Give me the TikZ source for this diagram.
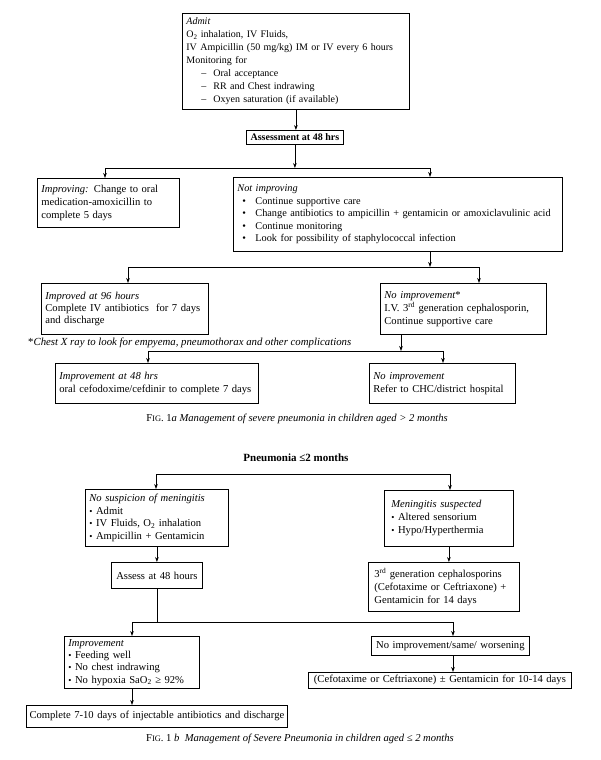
\documentclass[tikz,border=0pt]{standalone}
\usepackage{fontspec}
\setmainfont{Liberation Serif}
\usetikzlibrary{arrows.meta}
\newcommand\mainfs{\fontsize{10.6}{13}\selectfont}
\newcommand\tightfs{\fontsize{10.6}{12.4}\selectfont}
\newcommand\admitfs{\fontsize{10}{13}\selectfont}
\newcommand\notfs{\fontsize{10.3}{12.4}\selectfont}
\newcommand\sclt[1]{{\fontsize{8.4}{10}\selectfont #1}}
\newcommand\dsh{\hspace*{15pt}\makebox[12pt][l]{--}}
\newcommand\bul{\hspace*{5pt}\makebox[13pt][l]{\textbullet}}
\newcommand\sbul{{\small\textbullet}\ }
\tikzset{
  bx/.style={draw, line width=0.8pt, anchor=north west, inner xsep=4pt, inner ysep=1pt, align=left, font=\mainfs},
  cbx/.style={bx, align=center},
  arr/.style={line width=0.7pt, -{Stealth[length=5pt,width=3.6pt]}},
  ln/.style={line width=0.7pt},
  lbl/.style={inner sep=0pt, font=\mainfs},
}
\begin{document}
\begin{tikzpicture}[x=1pt,y=1pt]
\fill[white] (0,0) rectangle (600,-760);
\useasboundingbox (0,0) rectangle (600,-760);

% ---------- Fig 1a ----------
\node[bx, font=\admitfs, text width=219pt, minimum height=96pt] (admit) at (182,-13)
 {\textit{Admit}\\
  O\textsubscript{2} inhalation, IV Fluids,\\
  IV Ampicillin (50 mg/kg) IM or IV every 6 hours\\
  Monitoring for\\
  \dsh Oral acceptance\\
  \dsh RR and Chest indrawing\\
  \dsh Oxyen saturation (if available)};

\node[bx, align=center, font=\fontsize{10}{12}\selectfont\bfseries, inner xsep=1pt, inner ysep=0pt, minimum width=97pt, minimum height=14pt] (assess) at (246,-130)
 {Assessment at 48 hrs};

\node[bx, text width=134pt, minimum height=49pt] (improving) at (37,-178)
 {\textit{Improving:} Change to oral\\ medication-amoxicillin to\\ complete 5 days};

\node[bx, font=\notfs, text width=321pt, minimum height=74pt] (notimp) at (233,-177)
 {\textit{Not improving}\\
  \bul Continue supportive care\\
  \bul Change antibiotics to ampicillin + gentamicin or amoxiclavulinic acid\\
  \bul Continue monitoring\\
  \bul Look for possibility of staphylococcal infection};

\node[bx, font=\fontsize{10.6}{12.3}\selectfont, text width=159pt, minimum height=51pt] (imp96) at (41,-283)
 {\textit{Improved at 96 hours}\\ Complete IV antibiotics\ \ for 7 days\\ and discharge};

\node[bx, text width=158pt, minimum height=51pt] (noimpA) at (380,-283)
 {\textit{No improvement}*\\ I.V. 3\textsuperscript{rd} generation cephalosporin,\\ Continue supportive care};

\node[lbl, anchor=west, font=\fontsize{10.8}{13}\selectfont] (foot) at (28,-343)
 {*\textit{Chest X ray to look for empyema, pneumothorax and other complications}};

\node[bx, text width=195pt, minimum height=40pt] (imp48) at (55,-363)
 {\textit{Improvement at 48 hrs}\\ oral cefodoxime/cefdinir to complete 7 days};

\node[bx, text width=138pt, minimum height=40pt] (noimpB) at (369,-363)
 {\textit{No improvement}\\ Refer to CHC/district hospital};

\node[lbl] (capA) at (297,-419)
 {F\sclt{IG}. 1\textit{a Management of severe pneumonia in children aged > 2 months}};

% connectors 1a
\coordinate (j1c) at (296,-168);
\coordinate (j1l) at (105,-168);
\coordinate (j1r) at (430,-168);
\draw[arr] (admit.south) -- (admit.south |- assess.north);
\draw[arr] (assess.south) -- (assess.south |- j1c);
\draw[ln] (j1l) -- (j1r);
\draw[arr] (j1l) -- (j1l |- improving.north);
\draw[arr] (j1r) -- (j1r |- notimp.north);

\coordinate (k1l) at (128,-267);
\coordinate (k1r) at (479,-267);
\draw[arr] (j1r |- notimp.south) -- (j1r |- k1l);
\draw[ln] (k1l) -- (k1r);
\draw[arr] (k1l) -- (k1l |- imp96.north);
\draw[arr] (k1r) -- (k1r |- noimpA.north);

\coordinate (m1c) at (401,-351);
\coordinate (m1l) at (148,-351);
\coordinate (m1r) at (443,-351);
\draw[arr] (m1c |- noimpA.south) -- (m1c);
\draw[ln] (m1l) -- (m1r);
\draw[arr] (m1l) -- (m1l |- imp48.north);
\draw[arr] (m1r) -- (m1r |- noimpB.north);

% ---------- Fig 1b ----------
\node[lbl, font=\fontsize{11}{13}\selectfont\bfseries] (title) at (296,-458) {Pneumonia ≤2 months};

\node[bx, text width=135pt, minimum height=57pt, font=\tightfs] (nosusp) at (85,-489)
 {\textit{No suspicion of meningitis}\\ \sbul Admit\\ \sbul IV Fluids, O\textsubscript{2} inhalation\\ \sbul Ampicillin + Gentamicin};

\node[bx, inner xsep=7pt, text width=115pt, minimum height=56pt] (mening) at (384,-490)
 {\textit{Meningitis suspected}\\ \sbul Altered sensorium\\ \sbul Hypo/Hyperthermia};

\node[cbx, text width=83pt, minimum height=26pt] (assessB) at (111,-562)
 {Assess at 48 hours};

\node[bx, inner xsep=6pt, text width=139pt, minimum height=49pt] (third) at (368,-562)
 {3\textsuperscript{rd} generation cephalosporins\\ (Cefotaxime or Ceftriaxone) +\\ Gentamicin for 14 days};

\node[bx, font=\tightfs, text width=127pt, minimum height=52pt] (improvement) at (64,-636)
 {\textit{Improvement}\\ \sbul Feeding well\\ \sbul No chest indrawing\\ \sbul No hypoxia SaO\textsubscript{2} ≥ 92\%};

\node[cbx, inner xsep=2pt, text width=154pt, minimum height=19pt] (noimpC) at (371,-636)
 {No improvement/same/ worsening};

\node[cbx, inner xsep=2pt, inner ysep=0pt, text width=259pt, minimum height=16pt] (cefo) at (308,-672)
 {(Cefotaxime or Ceftriaxone) ± Gentamicin for 10-14 days};

\node[cbx, inner xsep=2pt, text width=257pt, minimum height=22pt] (complete) at (26,-705)
 {Complete 7-10 days of injectable antibiotics and discharge};

\node[lbl] (capB) at (300,-739)
 {F\sclt{IG}. 1 \textit{b\ \ Management of Severe Pneumonia in children aged ≤ 2 months}};

% connectors 1b
\coordinate (n1l) at (156,-474);
\coordinate (n1r) at (450,-474);
\draw[ln] (n1l) -- (n1r);
\draw[arr] (n1l) -- (n1l |- nosusp.north);
\draw[arr] (n1r) -- (n1r |- mening.north);
\draw[arr] (nosusp.south) -- (nosusp.south |- assessB.north);
\draw[arr] (mening.south) -- (mening.south |- third.north);

\coordinate (p1l) at (132,-622);
\coordinate (p1r) at (453,-622);
\draw[ln] (assessB.south) -- (assessB.south |- p1l);
\draw[ln] (p1l) -- (p1r);
\draw[arr] (p1l) -- (p1l |- improvement.north);
\draw[arr] (p1r) -- (p1r |- noimpC.north);
\draw[arr] (p1r |- noimpC.south) -- (p1r |- cefo.north);
\draw[arr] (p1l |- improvement.south) -- (p1l |- complete.north);
\end{tikzpicture}
\end{document}
